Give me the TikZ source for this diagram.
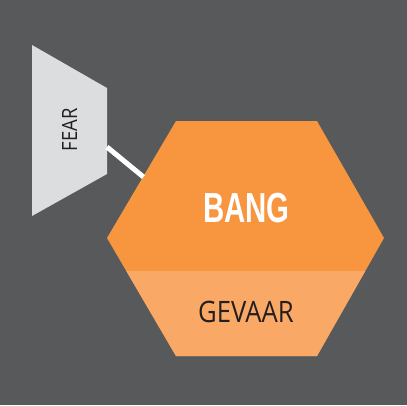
\documentclass[tikz,border=0pt]{standalone}
\usepackage{fontspec}
\setmainfont{Open Sans}
\newfontfamily\headfont{Liberation Sans}
\definecolor{panel}{HTML}{58595B}
\definecolor{pale}{HTML}{DCDDDE}
\definecolor{orangeA}{HTML}{F7963F}
\definecolor{orangeB}{HTML}{F9A865}
\definecolor{ink}{HTML}{231F20}
\tikzset{
  lbl/.style={inner sep=0pt, anchor=base, text=ink},
  link/.style={draw=white, line width=5pt}
}
\begin{document}
\begin{tikzpicture}[x=1pt, y=-1pt]
  % background panel
  \fill[panel] (0,0) rectangle (407,405);
  \useasboundingbox (0,0) rectangle (407,405);

  % funnel-shaped FEAR plate
  \fill[pale] (32,45) -- (107,88) -- (107,174) -- (32,216) -- cycle;
  \node[lbl, rotate=90, font=\fontsize{21}{21}\selectfont] (fear) at (77,130)
    {\scalebox{0.88}[1]{FEAR}};

  % hexagon with a lighter lower band
  \def\hexpath{(176,121) -- (317,121) -- (384,238) -- (317,356) -- (176,356) -- (107,238) -- cycle}
  \fill[orangeA] \hexpath;
  \begin{scope}
    \clip (100,271) rectangle (390,360);
    \fill[orangeB] \hexpath;
  \end{scope}
  \node[lbl, text=white, font=\headfont\bfseries\fontsize{42}{42}\selectfont] (bang) at (246.5,222)
    {\scalebox{0.7}[1]{BANG}};
  \node[lbl, font=\fontsize{29.5}{29.5}\selectfont] (gevaar) at (246,322)
    {\scalebox{0.87}[1]{GEVAAR}};

  % connector from the plate to the hexagon
  \coordinate (fearport) at (107,147);
  \coordinate (bangport) at (143.5,177);
  \draw[link] (fearport) -- (bangport);
\end{tikzpicture}
\end{document}
